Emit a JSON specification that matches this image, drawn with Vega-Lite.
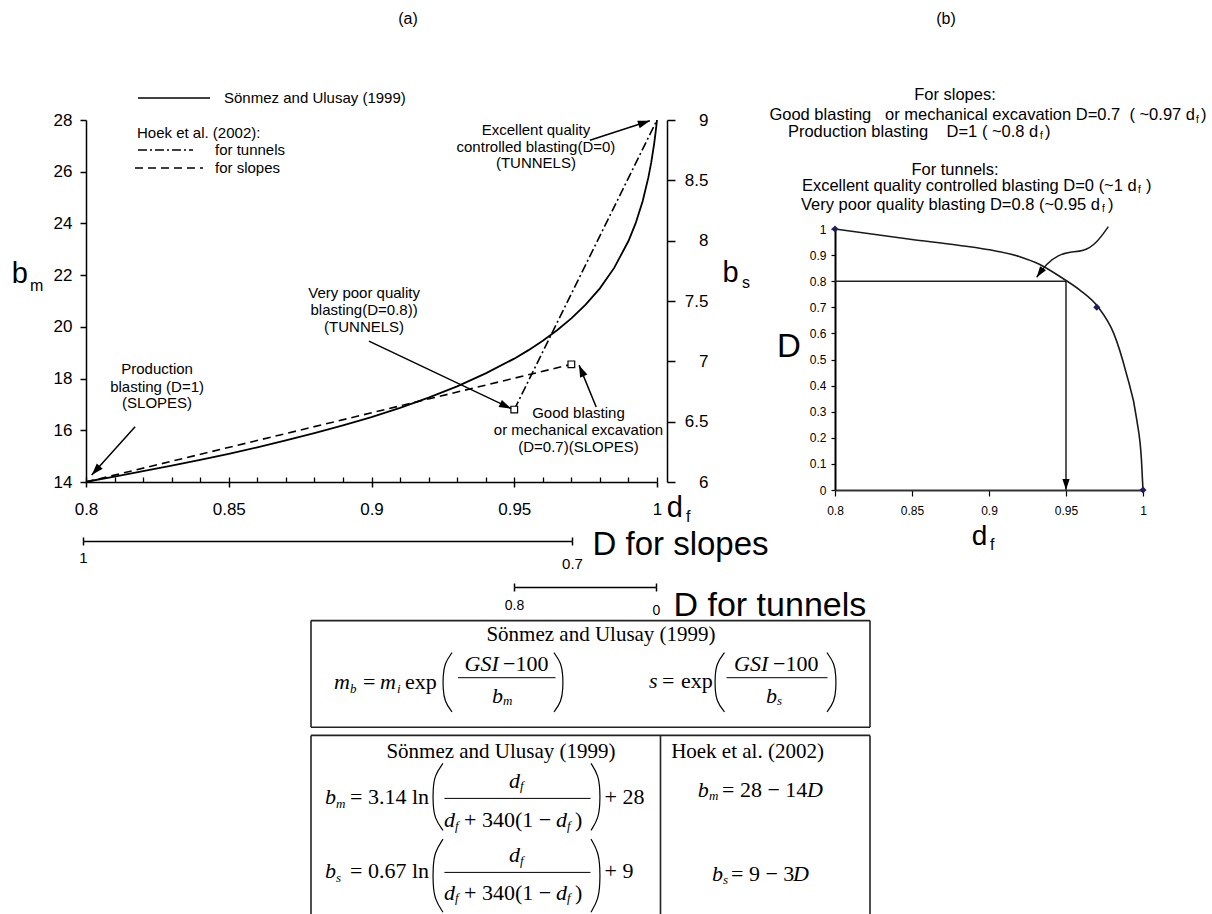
{
"$schema": "https://vega.github.io/schema/vega-lite/v6.json",
"width": 1212, "height": 914,
"autosize": {"type": "none"},
"padding": 0,
"background": "white",
"config": {
 "view": {"stroke": null},
 "font": "Liberation Sans",
 "axis": {"grid": false, "domainColor": "black", "tickColor": "black", "labelColor": "black", "titleColor": "black", "labelFont": "Liberation Sans", "titleFont": "Liberation Sans", "labelFlush": false, "labelOverlap": false, "labelBound": false, "titleFontWeight": "normal"}
},
"resolve": {"scale": {"x": "independent", "y": "independent"}, "axis": {"x": "independent", "y": "independent"}},
"datasets": {
 "curveA": [
  {"df":0.8,"bm":14.01},{"df":0.81,"bm":14.21},{"df":0.82,"bm":14.42},{"df":0.83,"bm":14.63},{"df":0.84,"bm":14.86},{"df":0.85,"bm":15.09},{"df":0.86,"bm":15.34},{"df":0.87,"bm":15.61},{"df":0.88,"bm":15.89},{"df":0.89,"bm":16.19},{"df":0.9,"bm":16.51},{"df":0.91,"bm":16.87},{"df":0.92,"bm":17.26},{"df":0.93,"bm":17.7},{"df":0.94,"bm":18.2},{"df":0.95,"bm":18.77},{"df":0.955,"bm":19.1},{"df":0.96,"bm":19.46},{"df":0.965,"bm":19.87},{"df":0.97,"bm":20.33},{"df":0.975,"bm":20.86},{"df":0.98,"bm":21.49},{"df":0.985,"bm":22.28},{"df":0.99,"bm":23.32},{"df":0.9925,"bm":24.0},{"df":0.995,"bm":24.87},{"df":0.997,"bm":25.79},{"df":0.998,"bm":26.37},{"df":0.999,"bm":27.08},{"df":0.9995,"bm":27.51},{"df":1.0,"bm":28.0}
 ],
 "segA": [
  {"method":"Hoek et al. (2002) for tunnels","seg":"tunnels","df":0.95,"bm":16.8},
  {"method":"Hoek et al. (2002) for tunnels","seg":"tunnels","df":1.0,"bm":28.0},
  {"method":"Hoek et al. (2002) for slopes","seg":"slopes","df":0.8,"bm":14.0},
  {"method":"Hoek et al. (2002) for slopes","seg":"slopes","df":0.97,"bm":18.55},
  {"method":"Sönmez and Ulusay (1999)","seg":"key1","df":0.81821,"bm":28.851},
  {"method":"Sönmez and Ulusay (1999)","seg":"key1","df":0.84343,"bm":28.851},
  {"method":"Hoek et al. (2002) for tunnels","seg":"key2","df":0.81821,"bm":26.84},
  {"method":"Hoek et al. (2002) for tunnels","seg":"key2","df":0.83748,"bm":26.84},
  {"method":"Hoek et al. (2002) for slopes","seg":"key3","df":0.81716,"bm":26.144},
  {"method":"Hoek et al. (2002) for slopes","seg":"key3","df":0.84098,"bm":26.144}
 ],
 "squaresA": [{"df":0.95,"bm":16.8},{"df":0.97,"bm":18.55}],
 "arrowsA": [
  {"id":"excellent","df":0.9765,"bm":27.22,"df2":0.9975,"bm2":27.97},
  {"id":"verypoor","df":0.8991,"bm":19.45,"df2":0.9489,"bm2":16.84},
  {"id":"good","df":0.9787,"bm":16.9,"df2":0.9727,"bm2":18.52},
  {"id":"production","df":0.8172,"bm":16.14,"df2":0.802,"bm2":14.27}
 ],
 "textA": [
  {"label":"Excellent quality","df":0.9576,"bm":27.613},
  {"label":"controlled blasting(D=0)","df":0.9576,"bm":26.956},
  {"label":"(TUNNELS)","df":0.9576,"bm":26.318},
  {"label":"Very poor quality","df":0.8974,"bm":21.309},
  {"label":"blasting(D=0.8))","df":0.8974,"bm":20.652},
  {"label":"(TUNNELS)","df":0.8974,"bm":19.994},
  {"label":"Production","df":0.8249,"bm":18.37},
  {"label":"blasting (D=1)","df":0.8249,"bm":17.693},
  {"label":"(SLOPES)","df":0.8249,"bm":17.055},
  {"label":"Good blasting","df":0.9725,"bm":16.668},
  {"label":"or mechanical excavation","df":0.9725,"bm":16.011},
  {"label":"(D=0.7)(SLOPES)","df":0.9725,"bm":15.354}
 ],
 "legendTextA": [
  {"label":"Sönmez and Ulusay (1999)","df":0.84834,"bm":28.851},
  {"label":"Hoek et al. (2002):","df":0.81786,"bm":27.497},
  {"label":"for tunnels","df":0.84518,"bm":26.84},
  {"label":"for slopes","df":0.84518,"bm":26.144}
 ],
 "bigA": [{"label":"b","df":0.77398,"bm":21.685},{"label":"b","df":1.02298,"bm":21.735},{"label":"d","df":1.0034,"bm":12.658}],
 "subA": [{"label":"m","df":0.78039,"bm":21.387},{"label":"s","df":1.0298,"bm":21.503},{"label":"f","df":1.01016,"bm":12.465}],
 "curveB": [
  {"df":0.8,"D":1.0},{"df":0.85,"D":0.96},{"df":0.88,"D":0.938},{"df":0.905,"D":0.915},{"df":0.92,"D":0.894},{"df":0.933,"D":0.864},{"df":0.946,"D":0.818},{"df":0.959,"D":0.766},{"df":0.971,"D":0.7},{"df":0.981,"D":0.6},{"df":0.989,"D":0.45},{"df":0.996,"D":0.268},{"df":0.999,"D":0.115},{"df":1.0,"D":0.0}
 ],
 "rulesB": [{"df":0.8,"D":0.8,"df2":0.95,"D2":0.8},{"df":0.95,"D":0.8,"df2":0.95,"D2":0.0}],
 "diamondsB": [{"df":0.8,"D":1.0},{"df":0.97,"D":0.7},{"df":1.0,"D":0.0}],
 "squiggleB": [{"i":1,"df":0.9775,"D":1.009},{"i":2,"df":0.9699,"D":0.945},{"i":3,"df":0.9612,"D":0.913},{"i":4,"df":0.9526,"D":0.913},{"i":5,"df":0.945,"D":0.9},{"i":6,"df":0.9375,"D":0.869},{"i":7,"df":0.931,"D":0.815}],
 "arrowTipsB": [{"id":"squiggle","df":0.931,"D":0.815},{"id":"vertical","df":0.95,"D":0.0}],
 "centerTextB": [{"label":"For slopes:","df":0.87792,"D":1.5134},{"label":"For tunnels:","df":0.87792,"D":1.22605}],
 "rightTextB": [
  {"label":"Good blasting \u00a0 or mechanical excavation D=0.7 \u00a0( ~0.97 d","df":1.03377,"D":1.43678},
  {"label":"Production blasting \u00a0 \u00a0D=1 ( ~0.8 d","df":0.93201,"D":1.3728},
  {"label":"Excellent quality controlled blasting D=0 (~1 d","df":0.99591,"D":1.16475},
  {"label":"Very poor quality blasting D=0.8 (~0.95 d","df":0.97208,"D":1.09195}
 ],
 "subTextB": [
  {"label":"f","df":1.03442,"D":1.41762},{"label":"f","df":0.93312,"D":1.35632},{"label":"f","df":0.99675,"D":1.14943},{"label":"f","df":0.97338,"D":1.07663}
 ],
 "closeTextB": [
  {"label":")","df":1.03766,"D":1.43678},{"label":")","df":0.93636,"D":1.3728},{"label":")","df":1.00195,"D":1.16475},{"label":")","df":0.97727,"D":1.09195}
 ],
 "tableBorders": [
  {"x":0,"x2":100,"y":0,"y2":0},{"x":0,"x2":100,"y":36.37,"y2":36.37},{"x":0,"x2":0,"y":0,"y2":36.37},{"x":100,"x2":100,"y":0,"y2":36.37},
  {"x":0,"x2":100,"y":39.13,"y2":39.13},{"x":0,"x2":0,"y":39.13,"y2":100},{"x":100,"x2":100,"y":39.13,"y2":100},{"x":62.52,"x2":62.52,"y":39.13,"y2":100}
 ],
 "fractionBars": [
  {"x":26.3,"x2":43.74,"y":19.46,"y2":19.46},{"x":74.33,"x2":92.4,"y":19.46,"y2":19.46},{"x":23.86,"x2":50.0,"y":60.6,"y2":60.6},{"x":23.86,"x2":50.0,"y":85.82,"y2":85.82}
 ],
 "parens": [
  {"p":"1L","i":1,"x":25.22,"y":10.94},{"p":"1L","i":2,"x":23.88,"y":14.58},{"p":"1L","i":3,"x":23.61,"y":19.02},{"p":"1L","i":4,"x":23.61,"y":23.07},{"p":"1L","i":5,"x":23.88,"y":27.51},{"p":"1L","i":6,"x":25.22,"y":31.15},
  {"p":"1R","i":1,"x":43.47,"y":10.94},{"p":"1R","i":2,"x":44.81,"y":14.58},{"p":"1R","i":3,"x":45.08,"y":19.02},{"p":"1R","i":4,"x":45.08,"y":23.07},{"p":"1R","i":5,"x":44.81,"y":27.51},{"p":"1R","i":6,"x":43.47,"y":31.15},
  {"p":"2L","i":1,"x":73.97,"y":10.94},{"p":"2L","i":2,"x":72.54,"y":14.58},{"p":"2L","i":3,"x":72.27,"y":19.02},{"p":"2L","i":4,"x":72.27,"y":23.07},{"p":"2L","i":5,"x":72.54,"y":27.51},{"p":"2L","i":6,"x":73.97,"y":31.15},
  {"p":"2R","i":1,"x":92.31,"y":10.94},{"p":"2R","i":2,"x":93.65,"y":14.58},{"p":"2R","i":3,"x":93.92,"y":19.02},{"p":"2R","i":4,"x":93.92,"y":23.07},{"p":"2R","i":5,"x":93.65,"y":27.51},{"p":"2R","i":6,"x":92.31,"y":31.15},
  {"p":"3L","i":1,"x":23.61,"y":48.67},{"p":"3L","i":2,"x":22.09,"y":52.78},{"p":"3L","i":3,"x":21.82,"y":57.81},{"p":"3L","i":4,"x":21.82,"y":62.37},{"p":"3L","i":5,"x":22.09,"y":67.4},{"p":"3L","i":6,"x":23.61,"y":71.51},
  {"p":"3R","i":1,"x":50.09,"y":48.67},{"p":"3R","i":2,"x":51.43,"y":52.78},{"p":"3R","i":3,"x":51.7,"y":57.81},{"p":"3R","i":4,"x":51.7,"y":62.37},{"p":"3R","i":5,"x":51.43,"y":67.4},{"p":"3R","i":6,"x":50.09,"y":71.51},
  {"p":"4L","i":1,"x":23.61,"y":74.48},{"p":"4L","i":2,"x":22.09,"y":78.96},{"p":"4L","i":3,"x":21.82,"y":84.44},{"p":"4L","i":4,"x":21.82,"y":89.43},{"p":"4L","i":5,"x":22.09,"y":94.91},{"p":"4L","i":6,"x":23.61,"y":99.39},
  {"p":"4R","i":1,"x":50.09,"y":74.48},{"p":"4R","i":2,"x":51.43,"y":78.96},{"p":"4R","i":3,"x":51.7,"y":84.44},{"p":"4R","i":4,"x":51.7,"y":89.43},{"p":"4R","i":5,"x":51.43,"y":94.91},{"p":"4R","i":6,"x":50.09,"y":99.39}
 ],
 "tableHeaders": [
  {"label":"Sönmez and Ulusay (1999)","x":51.88,"y":4.91},
  {"label":"Sönmez and Ulusay (1999)","x":33.99,"y":44.68},
  {"label":"Hoek et al. (2002)","x":78.09,"y":44.68}
 ],
 "tableItalic": [
  {"label":"m","x":4.11,"y":20.93},{"label":"m","x":12.34,"y":20.93},{"label":"GSI","x":27.48,"y":14.89},{"label":"b","x":32.38,"y":25.84},
  {"label":"s","x":60.47,"y":20.48},{"label":"GSI","x":75.67,"y":14.89},{"label":"b","x":81.4,"y":25.84},
  {"label":"b","x":2.5,"y":60.19},{"label":"d","x":35.42,"y":54.67},{"label":"d","x":23.79,"y":68.13},{"label":"d","x":43.83,"y":68.13},
  {"label":"b","x":2.5,"y":85.41},{"label":"d","x":35.42,"y":80.06},{"label":"d","x":23.79,"y":92.77},{"label":"d","x":43.83,"y":92.77},
  {"label":"b","x":69.18,"y":57.6},{"label":"D","x":88.73,"y":57.6},{"label":"b","x":71.74,"y":86.37},{"label":"D","x":86.23,"y":86.37}
 ],
 "tableSubs": [
  {"label":"b","x":6.98,"y":23.31},{"label":"i","x":15.38,"y":23.31},{"label":"m","x":34.35,"y":27.4},{"label":"s","x":83.36,"y":27.4},
  {"label":"m","x":4.47,"y":62.34},{"label":"f","x":37.39,"y":56.37},{"label":"f","x":25.76,"y":69.84},{"label":"f","x":45.8,"y":69.84},
  {"label":"s","x":4.47,"y":87.56},{"label":"f","x":37.39,"y":81.77},{"label":"f","x":25.76,"y":94.48},{"label":"f","x":45.8,"y":94.48},
  {"label":"m","x":71.2,"y":59.78},{"label":"s","x":73.7,"y":88.41}
 ],
 "tableNormal": [
  {"label":"=","x":9.3,"y":20.93},{"label":"exp","x":16.82,"y":20.93},{"label":"−100","x":34.35,"y":14.89},
  {"label":"=","x":62.79,"y":20.48},{"label":"exp","x":66.19,"y":20.48},{"label":"−100","x":82.65,"y":14.89},
  {"label":"= 3.14 ln","x":6.98,"y":60.19},{"label":"+ 340(1 −","x":27.37,"y":68.13},{"label":")","x":47.23,"y":68.13},{"label":"+ 28","x":52.5,"y":60.19},
  {"label":"= 0.67 ln","x":6.98,"y":85.41},{"label":"+ 340(1 −","x":27.37,"y":92.77},{"label":")","x":47.23,"y":92.77},{"label":"+ 9","x":52.5,"y":85.41},
  {"label":"= 28 − 14","x":73.53,"y":57.6},{"label":"= 9 − 3","x":75.13,"y":86.37}
 ]
},
"layer": [
 {"data":{"name":"curveA"},"mark":{"type":"line","color":"black","strokeWidth":1.8},
  "encoding":{
   "x":{"field":"df","type":"quantitative","scale":{"domain":[0.8,1],"range":[86,657],"nice":false,"zero":false},
        "axis":{"orient":"bottom","offset":-432,"values":[0.8,0.85,0.9,0.95,1],"format":"~g","tickSize":5,"tickWidth":1.5,"domainWidth":1.5,"labelFontSize":17,"labelPadding":14,"title":null}},
   "y":{"field":"bm","type":"quantitative","scale":{"domain":[14,28],"range":[482,120],"nice":false,"zero":false},
        "axis":{"orient":"left","offset":-86,"values":[14,16,18,20,22,24,26,28],"tickSize":6,"tickWidth":1.5,"domainWidth":1.5,"labelFontSize":17,"labelPadding":8,"title":null}}}},
 {"data":{"name":"curveA"},"mark":{"type":"point","opacity":0},
  "encoding":{
   "x":{"field":"df","type":"quantitative","scale":{"domain":[0.8,1],"range":[86,657],"nice":false,"zero":false},
        "axis":{"orient":"top","offset":-482,"values":[0.8,0.81,0.82,0.83,0.84,0.85,0.86,0.87,0.88,0.89,0.9,0.91,0.92,0.93,0.94,0.95,0.96,0.97,0.98,0.99,1],"labels":false,"domain":false,"tickSize":5,"tickWidth":1.3,"title":null}}}},
 {"data":{"values":[{"bs":6},{"bs":9}]},"mark":{"type":"point","opacity":0},
  "encoding":{
   "y":{"field":"bs","type":"quantitative","scale":{"domain":[6,9],"range":[482,120],"nice":false,"zero":false},
        "axis":{"orient":"right","offset":-545,"values":[6,6.5,7,7.5,8,8.5,9],"format":"~g","tickSize":8,"tickWidth":1.5,"domainWidth":1.5,"labelAlign":"right","labelPadding":33,"labelFontSize":17,"title":null}}}},
 {"data":{"name":"segA"},"mark":{"type":"line","color":"black","strokeWidth":1.6},
  "encoding":{
   "x":{"field":"df","type":"quantitative","scale":{"domain":[0.8,1],"range":[86,657],"nice":false,"zero":false},"axis":null},
   "y":{"field":"bm","type":"quantitative","scale":{"domain":[14,28],"range":[482,120],"nice":false,"zero":false},"axis":null},
   "detail":{"field":"seg"},
   "strokeDash":{"field":"method","type":"nominal","scale":{"domain":["Sönmez and Ulusay (1999)","Hoek et al. (2002) for tunnels","Hoek et al. (2002) for slopes"],"range":[[1,0],[9,3,2,3],[8,5]]},"legend":null}}},
 {"data":{"name":"squaresA"},"mark":{"type":"point","shape":"square","size":45,"filled":true,"fill":"white","stroke":"black","strokeWidth":1.2,"opacity":1},
  "encoding":{
   "x":{"field":"df","type":"quantitative","scale":{"domain":[0.8,1],"range":[86,657],"nice":false,"zero":false},"axis":null},
   "y":{"field":"bm","type":"quantitative","scale":{"domain":[14,28],"range":[482,120],"nice":false,"zero":false},"axis":null}}},
 {"data":{"name":"arrowsA"},"mark":{"type":"rule","color":"black","strokeWidth":1.5},
  "encoding":{
   "x":{"field":"df","type":"quantitative","scale":{"domain":[0.8,1],"range":[86,657],"nice":false,"zero":false},"axis":null},
   "y":{"field":"bm","type":"quantitative","scale":{"domain":[14,28],"range":[482,120],"nice":false,"zero":false},"axis":null},
   "x2":{"field":"df2"},"y2":{"field":"bm2"}}},
 {"data":{"name":"arrowsA"},"transform":[{"filter":"datum.id === 'excellent'"}],"mark":{"type":"point","shape":"M0,0L-0.33,1L0.33,1Z","size":576,"filled":true,"color":"black","opacity":1,"angle":72},
  "encoding":{
   "x":{"field":"df2","type":"quantitative","scale":{"domain":[0.8,1],"range":[86,657],"nice":false,"zero":false},"axis":null},
   "y":{"field":"bm2","type":"quantitative","scale":{"domain":[14,28],"range":[482,120],"nice":false,"zero":false},"axis":null}}},
 {"data":{"name":"arrowsA"},"transform":[{"filter":"datum.id === 'verypoor'"}],"mark":{"type":"point","shape":"M0,0L-0.33,1L0.33,1Z","size":576,"filled":true,"color":"black","opacity":1,"angle":115},
  "encoding":{
   "x":{"field":"df2","type":"quantitative","scale":{"domain":[0.8,1],"range":[86,657],"nice":false,"zero":false},"axis":null},
   "y":{"field":"bm2","type":"quantitative","scale":{"domain":[14,28],"range":[482,120],"nice":false,"zero":false},"axis":null}}},
 {"data":{"name":"arrowsA"},"transform":[{"filter":"datum.id === 'good'"}],"mark":{"type":"point","shape":"M0,0L-0.33,1L0.33,1Z","size":576,"filled":true,"color":"black","opacity":1,"angle":337},
  "encoding":{
   "x":{"field":"df2","type":"quantitative","scale":{"domain":[0.8,1],"range":[86,657],"nice":false,"zero":false},"axis":null},
   "y":{"field":"bm2","type":"quantitative","scale":{"domain":[14,28],"range":[482,120],"nice":false,"zero":false},"axis":null}}},
 {"data":{"name":"arrowsA"},"transform":[{"filter":"datum.id === 'production'"}],"mark":{"type":"point","shape":"M0,0L-0.33,1L0.33,1Z","size":576,"filled":true,"color":"black","opacity":1,"angle":222},
  "encoding":{
   "x":{"field":"df2","type":"quantitative","scale":{"domain":[0.8,1],"range":[86,657],"nice":false,"zero":false},"axis":null},
   "y":{"field":"bm2","type":"quantitative","scale":{"domain":[14,28],"range":[482,120],"nice":false,"zero":false},"axis":null}}},
 {"data":{"name":"textA"},"mark":{"type":"text","fontSize":15,"align":"center","baseline":"middle","font":"Liberation Sans","color":"black"},
  "encoding":{
   "x":{"field":"df","type":"quantitative","scale":{"domain":[0.8,1],"range":[86,657],"nice":false,"zero":false},"axis":null},
   "y":{"field":"bm","type":"quantitative","scale":{"domain":[14,28],"range":[482,120],"nice":false,"zero":false},"axis":null},
   "text":{"field":"label"}}},
 {"data":{"name":"legendTextA"},"mark":{"type":"text","fontSize":15,"align":"left","baseline":"middle","font":"Liberation Sans","color":"black"},
  "encoding":{
   "x":{"field":"df","type":"quantitative","scale":{"domain":[0.8,1],"range":[86,657],"nice":false,"zero":false},"axis":null},
   "y":{"field":"bm","type":"quantitative","scale":{"domain":[14,28],"range":[482,120],"nice":false,"zero":false},"axis":null},
   "text":{"field":"label"}}},
 {"data":{"name":"bigA"},"mark":{"type":"text","fontSize":29,"align":"left","baseline":"alphabetic","font":"Liberation Sans","color":"black"},
  "encoding":{
   "x":{"field":"df","type":"quantitative","scale":{"domain":[0.8,1],"range":[86,657],"nice":false,"zero":false},"axis":null},
   "y":{"field":"bm","type":"quantitative","scale":{"domain":[14,28],"range":[482,120],"nice":false,"zero":false},"axis":null},
   "text":{"field":"label"}}},
 {"data":{"name":"subA"},"mark":{"type":"text","fontSize":16,"align":"left","baseline":"alphabetic","font":"Liberation Sans","color":"black"},
  "encoding":{
   "x":{"field":"df","type":"quantitative","scale":{"domain":[0.8,1],"range":[86,657],"nice":false,"zero":false},"axis":null},
   "y":{"field":"bm","type":"quantitative","scale":{"domain":[14,28],"range":[482,120],"nice":false,"zero":false},"axis":null},
   "text":{"field":"label"}}},
 {"data":{"values":[{"label":"(a)","df":0.91278,"bm":31.92}]},"mark":{"type":"text","fontSize":16,"align":"center","baseline":"middle","font":"Liberation Sans","color":"black"},
  "encoding":{
   "x":{"field":"df","type":"quantitative","scale":{"domain":[0.8,1],"range":[86,657],"nice":false,"zero":false},"axis":null},
   "y":{"field":"bm","type":"quantitative","scale":{"domain":[14,28],"range":[482,120],"nice":false,"zero":false},"axis":null},
   "text":{"field":"label"}}},
 {"data":{"values":[{"D":1},{"D":0.7}]},"mark":{"type":"point","opacity":0},
  "encoding":{
   "x":{"field":"D","type":"quantitative","scale":{"domain":[1,0.7],"range":[83,572],"nice":false,"zero":false},
        "axis":{"orient":"bottom","offset":-373,"values":[1,0.7],"format":"~g","tickSize":4,"tickWidth":1.5,"domainWidth":1.5,"labelFontSize":15,"labelPadding":{"condition":{"test":"datum.value === 0.7","value":11},"value":5},"title":"D for slopes","titleFontSize":33,"titleX":592,"titleY":3,"titleAlign":"left","titleBaseline":"middle"}}}},
 {"data":{"values":[{"D":1},{"D":0.7}]},"mark":{"type":"point","opacity":0},
  "encoding":{
   "x":{"field":"D","type":"quantitative","scale":{"domain":[1,0.7],"range":[83,572],"nice":false,"zero":false},
        "axis":{"orient":"top","offset":-541,"values":[1,0.7],"labels":false,"domain":false,"tickSize":4,"tickWidth":1.5,"title":null}}}},
 {"data":{"values":[{"D":0.8},{"D":0}]},"mark":{"type":"point","opacity":0},
  "encoding":{
   "x":{"field":"D","type":"quantitative","scale":{"domain":[0.8,0],"range":[514,656],"nice":false,"zero":false},
        "axis":{"orient":"bottom","offset":-327,"values":[0.8,0],"format":"~g","tickSize":4,"tickWidth":1.5,"domainWidth":1.5,"labelFontSize":14,"labelPadding":{"condition":{"test":"datum.value === 0","value":12},"value":7},"title":"D for tunnels","titleFontSize":34,"titleX":673,"titleY":18,"titleAlign":"left","titleBaseline":"middle"}}}},
 {"data":{"values":[{"D":0.8},{"D":0}]},"mark":{"type":"point","opacity":0},
  "encoding":{
   "x":{"field":"D","type":"quantitative","scale":{"domain":[0.8,0],"range":[514,656],"nice":false,"zero":false},
        "axis":{"orient":"top","offset":-587,"values":[0.8,0],"labels":false,"domain":false,"tickSize":4,"tickWidth":1.5,"title":null}}}},
 {"data":{"name":"curveB"},"mark":{"type":"line","color":"#1a1a1a","strokeWidth":1.6,"interpolate":"monotone"},
  "encoding":{
   "x":{"field":"df","type":"quantitative","scale":{"domain":[0.8,1],"range":[835,1143],"nice":false,"zero":false},
        "axis":{"orient":"bottom","offset":-424,"values":[0.8,0.85,0.9,0.95,1],"format":"~g","tickSize":6,"tickWidth":1.2,"domainWidth":2,"domainColor":"#333333","labelFontSize":12,"labelPadding":9,"title":null}},
   "y":{"field":"D","type":"quantitative","scale":{"domain":[0,1],"range":[490,229],"nice":false,"zero":false},
        "axis":{"orient":"left","offset":-835,"values":[0,0.1,0.2,0.3,0.4,0.5,0.6,0.7,0.8,0.9,1],"format":"~g","tickSize":4,"tickWidth":1.2,"domainWidth":2,"labelFontSize":12,"labelPadding":5,"title":null}}}},
 {"data":{"name":"rulesB"},"mark":{"type":"rule","color":"#222222","strokeWidth":1.5},
  "encoding":{
   "x":{"field":"df","type":"quantitative","scale":{"domain":[0.8,1],"range":[835,1143],"nice":false,"zero":false},"axis":null},
   "y":{"field":"D","type":"quantitative","scale":{"domain":[0,1],"range":[490,229],"nice":false,"zero":false},"axis":null},
   "x2":{"field":"df2"},"y2":{"field":"D2"}}},
 {"data":{"name":"diamondsB"},"mark":{"type":"point","shape":"diamond","size":50,"filled":true,"color":"#1f1f5c","opacity":1},
  "encoding":{
   "x":{"field":"df","type":"quantitative","scale":{"domain":[0.8,1],"range":[835,1143],"nice":false,"zero":false},"axis":null},
   "y":{"field":"D","type":"quantitative","scale":{"domain":[0,1],"range":[490,229],"nice":false,"zero":false},"axis":null}}},
 {"data":{"name":"squiggleB"},"mark":{"type":"line","color":"#1a1a1a","strokeWidth":1.5,"interpolate":"basis"},
  "encoding":{
   "x":{"field":"df","type":"quantitative","scale":{"domain":[0.8,1],"range":[835,1143],"nice":false,"zero":false},"axis":null},
   "y":{"field":"D","type":"quantitative","scale":{"domain":[0,1],"range":[490,229],"nice":false,"zero":false},"axis":null},
   "order":{"field":"i","type":"quantitative"}}},
 {"data":{"name":"arrowTipsB"},"transform":[{"filter":"datum.id === 'squiggle'"}],"mark":{"type":"point","shape":"M0,0L-0.33,1L0.33,1Z","size":484,"filled":true,"color":"black","opacity":1,"angle":215},
  "encoding":{
   "x":{"field":"df","type":"quantitative","scale":{"domain":[0.8,1],"range":[835,1143],"nice":false,"zero":false},"axis":null},
   "y":{"field":"D","type":"quantitative","scale":{"domain":[0,1],"range":[490,229],"nice":false,"zero":false},"axis":null}}},
 {"data":{"name":"arrowTipsB"},"transform":[{"filter":"datum.id === 'vertical'"}],"mark":{"type":"point","shape":"M0,0L-0.33,1L0.33,1Z","size":484,"filled":true,"color":"black","opacity":1,"angle":180},
  "encoding":{
   "x":{"field":"df","type":"quantitative","scale":{"domain":[0.8,1],"range":[835,1143],"nice":false,"zero":false},"axis":null},
   "y":{"field":"D","type":"quantitative","scale":{"domain":[0,1],"range":[490,229],"nice":false,"zero":false},"axis":null}}},
 {"data":{"name":"centerTextB"},"mark":{"type":"text","fontSize":16.5,"align":"center","baseline":"middle","font":"Liberation Sans","color":"black"},
  "encoding":{
   "x":{"field":"df","type":"quantitative","scale":{"domain":[0.8,1],"range":[835,1143],"nice":false,"zero":false},"axis":null},
   "y":{"field":"D","type":"quantitative","scale":{"domain":[0,1],"range":[490,229],"nice":false,"zero":false},"axis":null},
   "text":{"field":"label"}}},
 {"data":{"name":"rightTextB"},"mark":{"type":"text","fontSize":16.5,"align":"right","baseline":"middle","font":"Liberation Sans","color":"black"},
  "encoding":{
   "x":{"field":"df","type":"quantitative","scale":{"domain":[0.8,1],"range":[835,1143],"nice":false,"zero":false},"axis":null},
   "y":{"field":"D","type":"quantitative","scale":{"domain":[0,1],"range":[490,229],"nice":false,"zero":false},"axis":null},
   "text":{"field":"label"}}},
 {"data":{"name":"subTextB"},"mark":{"type":"text","fontSize":10,"align":"left","baseline":"middle","font":"Liberation Sans","color":"black"},
  "encoding":{
   "x":{"field":"df","type":"quantitative","scale":{"domain":[0.8,1],"range":[835,1143],"nice":false,"zero":false},"axis":null},
   "y":{"field":"D","type":"quantitative","scale":{"domain":[0,1],"range":[490,229],"nice":false,"zero":false},"axis":null},
   "text":{"field":"label"}}},
 {"data":{"name":"closeTextB"},"mark":{"type":"text","fontSize":16.5,"align":"left","baseline":"middle","font":"Liberation Sans","color":"black"},
  "encoding":{
   "x":{"field":"df","type":"quantitative","scale":{"domain":[0.8,1],"range":[835,1143],"nice":false,"zero":false},"axis":null},
   "y":{"field":"D","type":"quantitative","scale":{"domain":[0,1],"range":[490,229],"nice":false,"zero":false},"axis":null},
   "text":{"field":"label"}}},
 {"data":{"values":[{"label":"(b)","df":0.87208,"D":1.8046}]},"mark":{"type":"text","fontSize":16,"align":"center","baseline":"middle","font":"Liberation Sans","color":"black"},
  "encoding":{
   "x":{"field":"df","type":"quantitative","scale":{"domain":[0.8,1],"range":[835,1143],"nice":false,"zero":false},"axis":null},
   "y":{"field":"D","type":"quantitative","scale":{"domain":[0,1],"range":[490,229],"nice":false,"zero":false},"axis":null},
   "text":{"field":"label"}}},
 {"data":{"values":[{"label":"D","df":0.76234,"D":0.5096}]},"mark":{"type":"text","fontSize":33,"align":"left","baseline":"alphabetic","font":"Liberation Sans","color":"black"},
  "encoding":{
   "x":{"field":"df","type":"quantitative","scale":{"domain":[0.8,1],"range":[835,1143],"nice":false,"zero":false},"axis":null},
   "y":{"field":"D","type":"quantitative","scale":{"domain":[0,1],"range":[490,229],"nice":false,"zero":false},"axis":null},
   "text":{"field":"label"}}},
 {"data":{"values":[{"label":"d","df":0.88877,"D":-0.2107}]},"mark":{"type":"text","fontSize":28,"align":"left","baseline":"alphabetic","font":"Liberation Sans","color":"black"},
  "encoding":{
   "x":{"field":"df","type":"quantitative","scale":{"domain":[0.8,1],"range":[835,1143],"nice":false,"zero":false},"axis":null},
   "y":{"field":"D","type":"quantitative","scale":{"domain":[0,1],"range":[490,229],"nice":false,"zero":false},"axis":null},
   "text":{"field":"label"}}},
 {"data":{"values":[{"label":"f","df":0.90065,"D":-0.2299}]},"mark":{"type":"text","fontSize":16,"align":"left","baseline":"alphabetic","font":"Liberation Sans","color":"black"},
  "encoding":{
   "x":{"field":"df","type":"quantitative","scale":{"domain":[0.8,1],"range":[835,1143],"nice":false,"zero":false},"axis":null},
   "y":{"field":"D","type":"quantitative","scale":{"domain":[0,1],"range":[490,229],"nice":false,"zero":false},"axis":null},
   "text":{"field":"label"}}},
 {"data":{"name":"tableBorders"},"mark":{"type":"rule","color":"#222222","strokeWidth":1.6},
  "encoding":{
   "x":{"field":"x","type":"quantitative","scale":{"domain":[0,100],"range":[311,870],"nice":false,"zero":false},"axis":null},
   "y":{"field":"y","type":"quantitative","scale":{"domain":[0,100],"range":[620.6,914],"nice":false,"zero":false},"axis":null},
   "x2":{"field":"x2"},"y2":{"field":"y2"}}},
 {"data":{"name":"fractionBars"},"mark":{"type":"rule","color":"black","strokeWidth":1},
  "encoding":{
   "x":{"field":"x","type":"quantitative","scale":{"domain":[0,100],"range":[311,870],"nice":false,"zero":false},"axis":null},
   "y":{"field":"y","type":"quantitative","scale":{"domain":[0,100],"range":[620.6,914],"nice":false,"zero":false},"axis":null},
   "x2":{"field":"x2"},"y2":{"field":"y2"}}},
 {"data":{"name":"parens"},"mark":{"type":"line","color":"black","strokeWidth":1.2,"interpolate":"basis"},
  "encoding":{
   "x":{"field":"x","type":"quantitative","scale":{"domain":[0,100],"range":[311,870],"nice":false,"zero":false},"axis":null},
   "y":{"field":"y","type":"quantitative","scale":{"domain":[0,100],"range":[620.6,914],"nice":false,"zero":false},"axis":null},
   "detail":{"field":"p"},"order":{"field":"i","type":"quantitative"}}},
 {"data":{"name":"tableHeaders"},"mark":{"type":"text","fontSize":21,"align":"center","baseline":"middle","font":"Liberation Serif","color":"black"},
  "encoding":{
   "x":{"field":"x","type":"quantitative","scale":{"domain":[0,100],"range":[311,870],"nice":false,"zero":false},"axis":null},
   "y":{"field":"y","type":"quantitative","scale":{"domain":[0,100],"range":[620.6,914],"nice":false,"zero":false},"axis":null},
   "text":{"field":"label"}}},
 {"data":{"name":"tableItalic"},"mark":{"type":"text","fontSize":22,"align":"left","baseline":"middle","font":"Liberation Serif","fontStyle":"italic","color":"black"},
  "encoding":{
   "x":{"field":"x","type":"quantitative","scale":{"domain":[0,100],"range":[311,870],"nice":false,"zero":false},"axis":null},
   "y":{"field":"y","type":"quantitative","scale":{"domain":[0,100],"range":[620.6,914],"nice":false,"zero":false},"axis":null},
   "text":{"field":"label"}}},
 {"data":{"name":"tableSubs"},"mark":{"type":"text","fontSize":13,"align":"left","baseline":"middle","font":"Liberation Serif","fontStyle":"italic","color":"black"},
  "encoding":{
   "x":{"field":"x","type":"quantitative","scale":{"domain":[0,100],"range":[311,870],"nice":false,"zero":false},"axis":null},
   "y":{"field":"y","type":"quantitative","scale":{"domain":[0,100],"range":[620.6,914],"nice":false,"zero":false},"axis":null},
   "text":{"field":"label"}}},
 {"data":{"name":"tableNormal"},"mark":{"type":"text","fontSize":22,"align":"left","baseline":"middle","font":"Liberation Serif","color":"black"},
  "encoding":{
   "x":{"field":"x","type":"quantitative","scale":{"domain":[0,100],"range":[311,870],"nice":false,"zero":false},"axis":null},
   "y":{"field":"y","type":"quantitative","scale":{"domain":[0,100],"range":[620.6,914],"nice":false,"zero":false},"axis":null},
   "text":{"field":"label"}}}
]
}
